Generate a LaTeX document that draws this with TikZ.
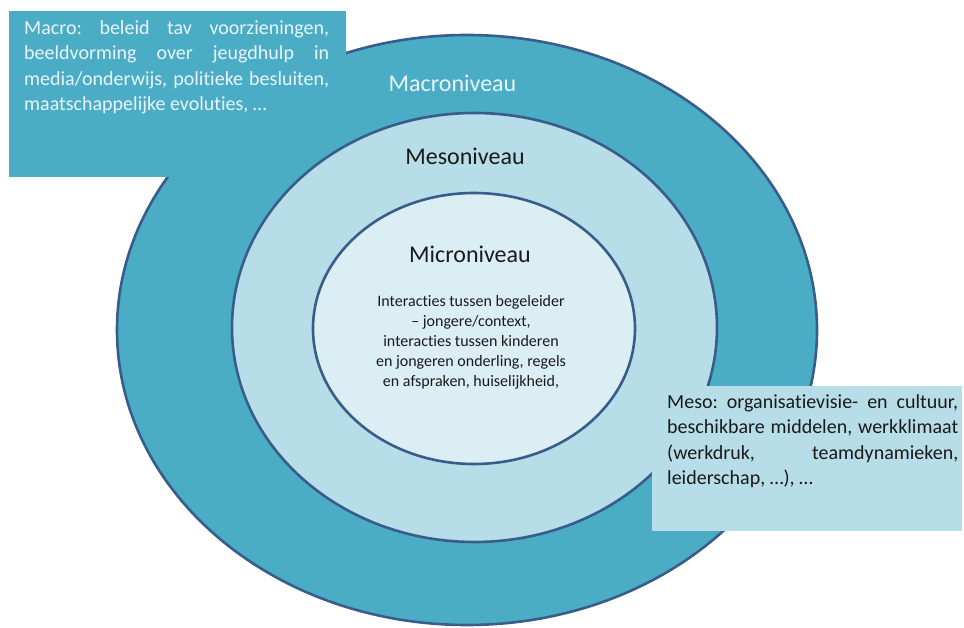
\documentclass[tikz,border=0pt]{standalone}
\usepackage{fontspec}
\setmainfont{Carlito}[Ligatures=NoCommon]
\usetikzlibrary{shapes.geometric}
\definecolor{ringdark}{HTML}{4BACC6}
\definecolor{ringmid}{HTML}{B7DDE8}
\definecolor{ringlight}{HTML}{DBEEF3}
\definecolor{ringline}{HTML}{385D8A}
\definecolor{paletext}{HTML}{E9F5F9}
\definecolor{inktext}{HTML}{1A1A1A}
\frenchspacing
\begin{document}
\begin{tikzpicture}[x=1pt,y=-1pt,
  ring/.style={ellipse, draw=ringline, line width=2.6pt, inner sep=0pt},
  level/.style={anchor=base, inner sep=0pt, font=\fontsize{24}{28}\selectfont},
  blocktext/.style={anchor=base west, inner sep=0pt}]
\useasboundingbox (0,0) rectangle (964,628);

% outer ring and the macro note that overlaps it
\node[ring, fill=ringdark, minimum width=700pt, minimum height=590pt] (macroring) at (467,330) {};
\fill[ringdark] (9,11) rectangle (346,177);
\coordinate (macronote) at (9,11);

% middle and inner rings
\node[ring, fill=ringmid, minimum width=485pt, minimum height=429pt] (mesoring) at (474.5,327.5) {};
\node[ring, fill=ringlight, minimum width=322pt, minimum height=271pt] (microring) at (474,328.5) {};

% meso note on top
\fill[ringmid] (652,386) rectangle (962,531);
\coordinate (mesonote) at (652,386);

% level titles
\node[level, text=paletext] (macrolabel) at (452.5,92) {Macroniveau};
\node[level, text=inktext] (mesolabel) at (465,165) {Mesoniveau};
\node[level, text=inktext] (microlabel) at (470,263) {Microniveau};

% micro description
\node[anchor=base, inner sep=0pt, text=inktext] (microtext) at (471,307)
  {\parbox[t]{240pt}{\centering\fontsize{16}{20}\selectfont
   Interacties tussen begeleider\\
   – jongere/context,\\
   interacties tussen kinderen\\
   en jongeren onderling, regels\\
   en afspraken, huiselijkheid,}};

% macro description
\node[blocktext, text=paletext] (macrotext) at (24,34.5)
  {\parbox[t]{305pt}{\fontsize{20}{25.5}\selectfont
   \makebox[305pt][s]{Macro: beleid tav voorzieningen,}\\
   \makebox[305pt][s]{beeldvorming over jeugdhulp in}\\
   \makebox[305pt][s]{media/onderwijs, politieke besluiten,}\\
   maatschappelijke evoluties, …}};

% meso description
\node[blocktext, text=inktext] (mesotext) at (667,408)
  {\parbox[t]{291pt}{\fontsize{20}{25.5}\selectfont
   \makebox[291pt][s]{Meso: organisatievisie- en cultuur,}\\
   \makebox[291pt][s]{beschikbare middelen, werkklimaat}\\
   \makebox[291pt][s]{(werkdruk, teamdynamieken,}\\
   leiderschap, …), …}};
\end{tikzpicture}
\end{document}
